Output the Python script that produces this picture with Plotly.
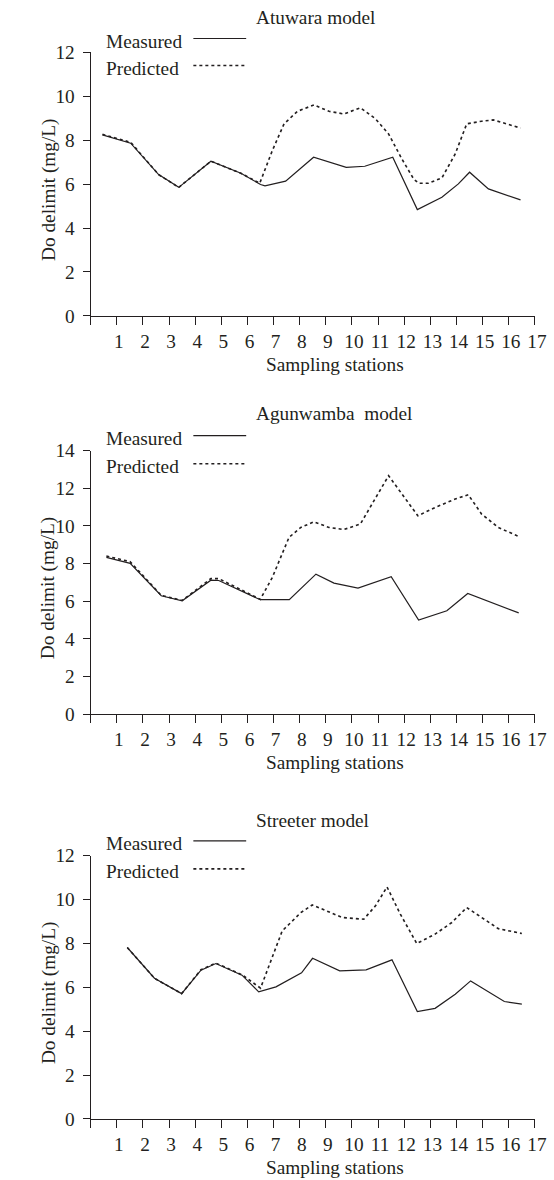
import plotly.graph_objects as go

# The photographed picture maps page pixels as: pic = K * page (+ OY vertically).
# Lay the figure out in picture (target) pixels and convert.
TW, TH = 554, 1180
K, OY = 0.982, 9.5
W = round(TW / K)                 # 564
H = round((TH - OY) / K) + 2      # ~1194

def fx(d):
    return d / K

def fy(d):
    return (d - OY) / K

def px(d):
    return fx(d) / W

def py(d):
    return 1 - fy(d) / H

# ---- data ----
titles = ["Atuwara model", "Agunwamba  model", "Streeter model"]
y_max = [12, 14, 12]
x_ticks = list(range(0, 18))
x_tick_labels = [""] + [str(i) for i in range(1, 18)]

x1m = [0.45, 1.53, 2.6, 3.37, 4.6, 5.75, 6.5, 6.67, 7.46, 8.53, 9.78, 10.49, 11.56, 12.5, 13.44, 14.07, 14.5, 15.22, 16.45]
y1m = [8.24, 7.86, 6.43, 5.85, 7.04, 6.49, 5.98, 5.92, 6.13, 7.22, 6.76, 6.81, 7.22, 4.84, 5.40, 6.01, 6.54, 5.78, 5.28]
x1p = [0.45, 1.53, 2.6, 3.37, 4.6, 5.75, 6.47, 6.95, 7.40, 7.91, 8.54, 9.12, 9.69, 10.32, 10.9, 11.4, 11.91, 12.36, 12.55, 12.93, 13.44, 13.95, 14.39, 14.96, 15.41, 16.45]
y1p = [8.26, 7.9, 6.43, 5.85, 7.04, 6.49, 6.04, 7.52, 8.74, 9.31, 9.6, 9.31, 9.19, 9.47, 8.97, 8.28, 7.14, 6.23, 6.04, 6.04, 6.28, 7.37, 8.74, 8.86, 8.92, 8.55]

x2m = [0.6, 1.51, 2.7, 3.5, 4.6, 4.9, 6.49, 7.6, 8.62, 9.31, 10.23, 11.5, 12.55, 13.63, 14.43, 16.38]
y2m = [8.33, 8.01, 6.29, 6.02, 7.12, 7.1, 6.08, 6.08, 7.44, 6.96, 6.70, 7.30, 5.0, 5.49, 6.41, 5.38]
x2p = [0.6, 1.51, 2.7, 3.5, 4.6, 4.9, 6.49, 6.95, 7.27, 7.59, 8.04, 8.54, 9.12, 9.69, 10.32, 10.9, 11.4, 11.91, 12.52, 13.18, 13.95, 14.45, 14.96, 15.6, 16.38]
y2p = [8.4, 8.1, 6.31, 6.04, 7.2, 7.2, 6.1, 7.26, 8.33, 9.39, 9.92, 10.22, 9.92, 9.81, 10.1, 11.52, 12.67, 11.7, 10.54, 10.98, 11.43, 11.66, 10.63, 9.92, 9.44]

x3m = [1.40, 2.44, 3.48, 4.22, 4.79, 5.79, 6.43, 7.09, 8.07, 8.49, 9.53, 10.54, 11.53, 12.5, 13.18, 13.95, 14.54, 15.83, 16.5]
y3m = [7.81, 6.41, 5.71, 6.78, 7.08, 6.55, 5.79, 6.02, 6.66, 7.32, 6.75, 6.79, 7.25, 4.89, 5.04, 5.68, 6.29, 5.35, 5.23]
x3p = [1.40, 2.44, 3.48, 4.22, 4.79, 5.79, 6.5, 6.89, 7.33, 7.59, 8.04, 8.48, 9.05, 9.62, 10.45, 10.9, 11.34, 11.85, 12.48, 13.18, 13.82, 14.39, 14.96, 15.6, 16.5]
y3p = [7.81, 6.41, 5.71, 6.8, 7.1, 6.57, 5.96, 7.2, 8.57, 8.87, 9.4, 9.75, 9.45, 9.18, 9.1, 9.71, 10.57, 9.33, 7.99, 8.42, 8.95, 9.63, 9.18, 8.67, 8.45]

series = [(x1m, y1m, x1p, y1p), (x2m, y2m, x2p, y2p), (x3m, y3m, x3p, y3p)]

# ---- layout geometry (target picture pixels) ----
plot_left, plot_right = 91, 536.7
panel_px = [(51.7, 315.3), (450.0, 713.3), (854.7, 1118.0)]   # (top, bottom)
title_y = [17, 413, 820]
xtitle_y = [364, 762, 1167]
legend_y = [(41, 68), (438, 466), (843, 871)]

INK = "#231f20"
FONT = "Liberation Serif"
FS = round(19 / K, 1)
LW = 1.2 / K
DW = 1.6 / K

fig = go.Figure()
annotations = []
shapes = []

for i, ((xm, ym, xp, yp), (top, bot)) in enumerate(zip(series, panel_px)):
    n = "" if i == 0 else str(i + 1)
    xa, ya = "x" + n, "y" + n
    fig.add_trace(go.Scatter(x=xp, y=yp, mode="lines", xaxis=xa, yaxis=ya,
                             line=dict(color=INK, width=DW, dash="3px,3px"),
                             showlegend=False, hoverinfo="skip"))
    fig.add_trace(go.Scatter(x=xm, y=ym, mode="lines", xaxis=xa, yaxis=ya,
                             line=dict(color=INK, width=LW),
                             showlegend=False, hoverinfo="skip"))
    axis_common = dict(showgrid=False, zeroline=False, showline=True,
                       linecolor=INK, linewidth=LW, ticks="outside",
                       tickcolor=INK, tickwidth=LW,
                       tickfont=dict(family=FONT, size=FS, color=INK))
    fig.update_layout(**{
        "xaxis" + n: dict(domain=[px(plot_left), px(plot_right)], range=[0, 17],
                          tickmode="array", tickvals=x_ticks, ticktext=x_tick_labels,
                          ticklen=8, anchor=ya, ticklabelshift=2, **axis_common),
        "yaxis" + n: dict(domain=[py(bot), py(top)], range=[0, y_max[i]],
                          tickmode="linear", tick0=0, dtick=2, ticklen=7,
                          ticklabelstandoff=4, anchor=xa, **axis_common),
    })
    annotations.append(dict(text=titles[i], x=px(255), y=py(title_y[i]),
                            xref="paper", yref="paper", xanchor="left", yanchor="middle",
                            showarrow=False, font=dict(family=FONT, size=FS, color=INK)))
    annotations.append(dict(text="Sampling stations", x=px(336), y=py(xtitle_y[i]),
                            xref="paper", yref="paper", xanchor="center", yanchor="middle",
                            showarrow=False, font=dict(family=FONT, size=FS, color=INK)))
    annotations.append(dict(text="Do delimit (mg/L)", x=px(49), y=py((top + bot) / 2 + 6),
                            xref="paper", yref="paper", xanchor="center", yanchor="middle",
                            textangle=-90, showarrow=False,
                            font=dict(family=FONT, size=FS, color=INK)))
    for label, ly, dash in [("Measured", legend_y[i][0], "solid"),
                            ("Predicted", legend_y[i][1], "3px,3px")]:
        annotations.append(dict(text=label, x=px(104), y=py(ly),
                                xref="paper", yref="paper", xanchor="left", yanchor="middle",
                                showarrow=False, font=dict(family=FONT, size=FS, color=INK)))
        shapes.append(dict(type="line", xref="paper", yref="paper",
                           x0=px(194), x1=px(247), y0=py(ly - 3), y1=py(ly - 3),
                           line=dict(color=INK, width=DW if dash != "solid" else LW,
                                     dash=dash)))

fig.update_layout(width=W, height=H, margin=dict(l=0, r=0, t=0, b=0),
                  paper_bgcolor="white", plot_bgcolor="white",
                  annotations=annotations, shapes=shapes,
                  font=dict(family=FONT, size=FS, color=INK))

# pin the figure to the page's top-left corner
page_fix = ("document.documentElement.style.margin='0';"
            "document.body.style.margin='0';document.body.style.padding='0';"
            "document.documentElement.style.overflow='hidden';"
            "var gd=document.getElementById('{plot_id}');"
            "gd.style.position='absolute';gd.style.left='0px';gd.style.top='0px';")
fig.write_html("out.html", post_script=page_fix, config={"displayModeBar": False})
